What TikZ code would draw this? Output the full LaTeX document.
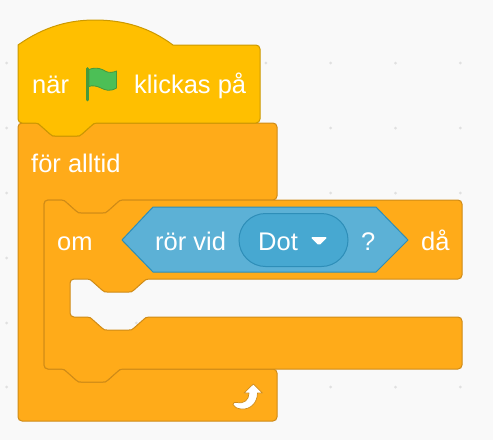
\documentclass[tikz,border=0pt]{standalone}
\usepackage{fontspec}
\setmainfont{Liberation Sans}
\definecolor{bggray}{HTML}{F9F9F9}
\definecolor{griddot}{HTML}{E0E0E0}
\definecolor{hatfill}{HTML}{FFBF00}
\definecolor{hatline}{HTML}{CC9900}
\definecolor{ctrlfill}{HTML}{FFAB19}
\definecolor{ctrlline}{HTML}{CF8B17}
\definecolor{sensefill}{HTML}{5CB1D6}
\definecolor{senseline}{HTML}{2E8EB8}
\definecolor{fieldfill}{HTML}{47A8D1}
\definecolor{flagfill}{HTML}{4CBF56}
\definecolor{flagline}{HTML}{45993D}
\tikzset{
  blocktext/.style={anchor=base west,inner sep=0pt,text=white,font=\fontsize{25.5}{30}\selectfont},
  hatblock/.style={fill=hatfill,draw=hatline,line width=1pt,line join=round},
  ctrlblock/.style={fill=ctrlfill,draw=ctrlline,line width=1pt,line join=round},
  senseblock/.style={fill=sensefill,draw=senseline,line width=1pt,line join=round},
}
\begin{document}
\begin{tikzpicture}[x=1pt,y=-1pt]
\fill[bggray] (0,0) rectangle (493,440);
\useasboundingbox (0,0) rectangle (493,440);

\foreach \x in {6.7,71.5,136.3,201.1,265.9,330.7,395.5,460.3}
  \foreach \y in {63,128,193,258,323,387} \fill[griddot] (\x,\y) circle (1.5);

% forever block first, if block on top of it
\draw[ctrlblock] (18,127) arc (180:270:4) -- (35,123)
  .. controls (38,123) and (39,124) .. (41,126) -- (50,134)
  .. controls (52,136) and (53,136) .. (55,136) -- (77,136)
  .. controls (79,136) and (80,136) .. (82,134) -- (91,126)
  .. controls (93,124) and (94,123) .. (97,123)
  -- (273,123) arc (-90:0:4) -- (277,196) arc (0:90:4)
  -- (123,200) .. controls (120,200) and (119,201) .. (117,203) -- (108,211)
  .. controls (106,213) and (105,213) .. (103,213) -- (81,213)
  .. controls (79,213) and (78,213) .. (76,211) -- (67,203)
  .. controls (65,201) and (64,200) .. (61,200)
  -- (48,200) arc (270:180:4) -- (44,365) arc (180:90:4)
  -- (61,369) .. controls (64,369) and (65,370) .. (67,372) -- (76,380)
  .. controls (78,382) and (79,382) .. (81,382) -- (103,382)
  .. controls (105,382) and (106,382) .. (108,380) -- (117,372)
  .. controls (119,370) and (120,369) .. (123,369)
  -- (273,369) arc (-90:0:4) -- (277,417) arc (0:90:4)
  -- (22,421) arc (90:180:4) -- cycle;

\draw[ctrlblock] (44,204) arc (180:270:4) -- (61,200)
  .. controls (64,200) and (65,201) .. (67,203) -- (76,211)
  .. controls (78,213) and (79,213) .. (81,213) -- (103,213)
  .. controls (105,213) and (106,213) .. (108,211) -- (117,203)
  .. controls (119,201) and (120,200) .. (123,200)
  -- (458,200) arc (-90:0:4) -- (462,275) arc (0:90:4)
  -- (149,279) .. controls (146,279) and (145,280) .. (143,282) -- (134,290)
  .. controls (132,292) and (131,292) .. (129,292) -- (107,292)
  .. controls (105,292) and (104,292) .. (102,290) -- (93,282)
  .. controls (91,280) and (90,279) .. (87,279)
  -- (74,279) arc (270:180:4) -- (70,313) arc (180:90:4)
  -- (87,317) .. controls (90,317) and (91,318) .. (93,320) -- (102,328)
  .. controls (104,330) and (105,330) .. (107,330) -- (129,330)
  .. controls (131,330) and (132,330) .. (134,328) -- (143,320)
  .. controls (145,318) and (146,317) .. (149,317)
  -- (458,317) arc (-90:0:4) -- (462,365) arc (0:90:4)
  -- (123,369) .. controls (120,369) and (119,370) .. (117,372) -- (108,380)
  .. controls (106,382) and (105,382) .. (103,382) -- (81,382)
  .. controls (79,382) and (78,382) .. (76,380) -- (67,372)
  .. controls (65,370) and (64,369) .. (61,369)
  -- (48,369) arc (90:180:4) -- cycle;

\draw[hatblock] (18,45) .. controls (45,26) and (70,20) .. (95,20)
  .. controls (125,20) and (150,28) .. (173,45)
  -- (256,45) arc (-90:0:4) -- (260,119) arc (0:90:4)
  -- (97,123) .. controls (94,123) and (93,124) .. (91,126) -- (82,134)
  .. controls (80,136) and (79,136) .. (77,136) -- (55,136)
  .. controls (53,136) and (52,136) .. (50,134) -- (41,126)
  .. controls (39,124) and (38,123) .. (35,123)
  -- (22,123) arc (90:180:4) -- cycle;

% flag
\draw[flagline,fill=flagfill,line width=0.8pt,line join=round] (89,69.5)
  .. controls (97,66.5) and (102,69) .. (106,71.5)
  .. controls (109,73) and (113,72.5) .. (116.5,71) -- (116.5,88)
  .. controls (110,92) and (105,90) .. (101,88)
  .. controls (97,86) and (92,85) .. (89,86.5) -- cycle;
\draw[flagline,line width=2.8pt,line cap=round] (87.5,68.5) -- (87.5,100);

\draw[senseblock] (122,240) -- (153,207) -- (376,207) -- (408,240) -- (376,272) -- (153,272) -- cycle;
\draw[fill=fieldfill,draw=senseline,line width=1pt] (265.5,213.5) arc (-90:-270:26.5) -- (321.5,266.5) arc (90:-90:26.5) -- cycle;
\fill[white,rounded corners=1.5pt] (310.5,237) -- (327.5,237) -- (319,245.5) -- cycle;

\node[blocktext] (whenlbl) at (32,93) {när};
\node[blocktext] (clicklbl) at (134,93) {klickas på};
\node[blocktext] (foreverlbl) at (31,172) {för alltid};
\node[blocktext] (iflbl) at (57,250) {om};
\node[blocktext] (touchlbl) at (155,250) {rör vid};
\node[blocktext] (dotlbl) at (258,250) {Dot};
\node[blocktext] (asklbl) at (361,250) {?};
\node[blocktext] (thenlbl) at (421,250) {då};

% loop arrow
\draw[fill=white,draw=ctrlline,line width=0.7pt,line join=round] (253.3,384) -- (262.5,393) -- (257.5,393)
  .. controls (257.5,403) and (250,410) .. (241,409)
  .. controls (237,408.5) and (234,407) .. (233,404.5)
  .. controls (233,402) and (235,402) .. (237,402.5)
  .. controls (244,404) and (249,400) .. (249,393)
  -- (244,393) -- cycle;
\end{tikzpicture}
\end{document}
